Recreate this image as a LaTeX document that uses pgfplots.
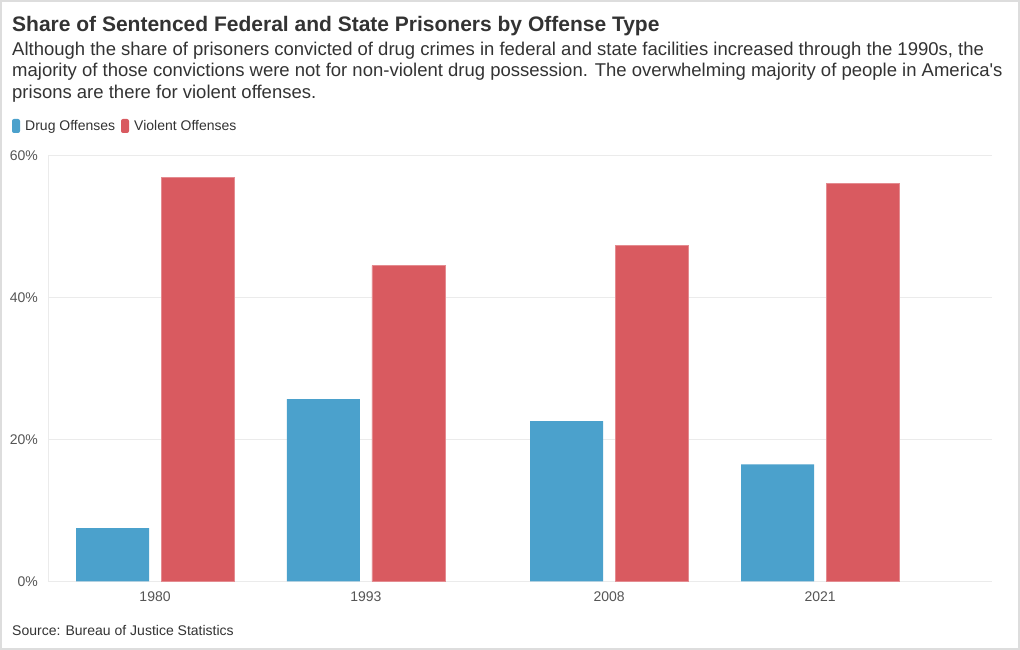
\documentclass[border=0pt]{standalone}
\usepackage{pgfplots}
\pgfplotsset{compat=1.18}
\usepackage{fontspec}
\setmainfont{Liberation Sans}
\definecolor{drug}{HTML}{4BA1CC}
\definecolor{viol}{HTML}{D95A60}
\definecolor{txt}{HTML}{333333}
\definecolor{tickc}{HTML}{555555}
\definecolor{gridc}{HTML}{EBEBEB}
\definecolor{framec}{HTML}{DDDDDD}
\begin{document}
\begin{tikzpicture}[x=1pt,y=1pt]
\fill[white] (0,0) rectangle (1020,650);
\draw[framec, line width=2pt] (1,1) rectangle (1019,649);
\node[anchor=base west, inner sep=0, font=\bfseries\fontsize{21}{24}\selectfont, text=txt] at (12,618) {Share of Sentenced Federal and State Prisoners by Offense Type};
\node[anchor=base west, inner sep=0, font=\fontsize{18.5}{21}\selectfont, text=txt] at (12,594.5) {Although the share of prisoners convicted of drug crimes in federal and state facilities increased through the 1990s, the};
\node[anchor=base west, inner sep=0, font=\fontsize{18.5}{21}\selectfont, text=txt] at (12,573) {majority of those convictions were not for non-violent drug possession. The overwhelming majority of people in America\textquotesingle s};
\node[anchor=base west, inner sep=0, font=\fontsize{18.5}{21}\selectfont, text=txt] at (12,551.5) {prisons are there for violent offenses.};
\fill[drug, rounded corners=2pt] (12,517) rectangle (20,531);
\node[anchor=base west, inner sep=0, font=\fontsize{14}{16}\selectfont, text=txt] at (25,519.5) {Drug Offenses};
\fill[viol, rounded corners=2pt] (121,517) rectangle (129,531);
\node[anchor=base west, inner sep=0, font=\fontsize{14}{16}\selectfont, text=txt] at (134,519.5) {Violent Offenses};
\node[anchor=base west, inner sep=0, font=\fontsize{14}{16}\selectfont, text=txt] at (12,14) {Source: Bureau of Justice Statistics};
\begin{axis}[
  at={(48pt,68.5pt)}, anchor=south west, scale only axis,
  width=944pt, height=426pt,
  xmin=1973.4, xmax=2031.6, ymin=0, ymax=60,
  ybar, bar width=73pt,
  axis line style={draw=none},
  major tick length=0pt,
  xtick={1980,1993,2008,2021},
  xticklabels={1980,1993,2008,2021},
  xticklabel style={anchor=base, yshift=-20.5pt, inner sep=0pt, font=\fontsize{14}{16}\selectfont, text=tickc},
  ytick={0,20,40,60},
  yticklabels={0\%,20\%,40\%,60\%},
  yticklabel style={anchor=east, xshift=-10pt, inner sep=0pt, font=\fontsize{14}{16}\selectfont, text=tickc},
  /pgf/number format/assume math mode=true,
  ymajorgrids, grid style={gridc, line width=0.8pt},
  clip=false,
]
\draw[gridc, line width=0.8pt] (rel axis cs:0,0) -- (rel axis cs:0,1);
\addplot[fill=drug, draw=none, bar shift=-42.5pt] coordinates {(1980,7.5) (1993,25.7) (2008,22.6) (2021,16.5)};
\addplot[fill=viol, draw=viol!70!white, line width=0.5pt, bar shift=42.5pt] coordinates {(1980,56.9) (1993,44.5) (2008,47.3) (2021,56.1)};
\end{axis}
\end{tikzpicture}
\end{document}
